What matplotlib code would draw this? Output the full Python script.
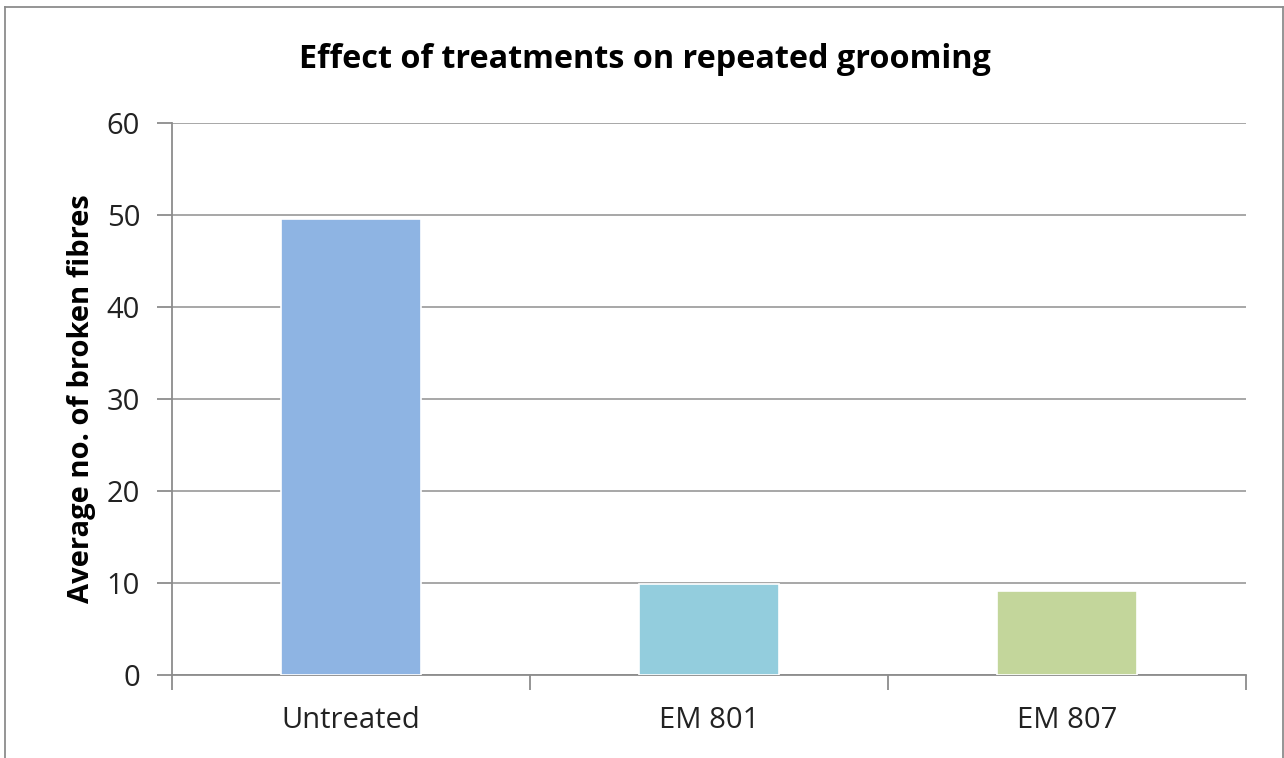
import matplotlib.pyplot as plt
from matplotlib.lines import Line2D
import matplotlib.patheffects as pe

categories = ["Untreated", "EM 801", "EM 807"]
values = [49.6, 9.9, 9.1]
colors = ["#8EB4E3", "#93CDDD", "#C3D69B"]
y_ticks = [0, 10, 20, 30, 40, 50, 60]

plt.rcParams['font.family'] = ['Open Sans', 'DejaVu Sans']

fig = plt.figure(figsize=(12.84, 7.58), dpi=100)
ax = fig.add_axes([0.134, 0.1095, 0.8364, 0.7282])

x = range(len(categories))
bars = ax.bar(x, values, width=0.39, color=colors, edgecolor="white", linewidth=1.2, zorder=3)
for b in bars:
    b.set_path_effects([pe.SimplePatchShadow(offset=(0, 0), shadow_rgbFace="#bbbbbb", alpha=0.6),
                        pe.Normal()])

ax.set_xlim(-0.5, 2.5)
ax.set_ylim(0, 60)
ax.set_yticks(y_ticks)
ax.set_xticks(list(x))
ax.set_xticklabels(categories)
ax.set_xticks([-0.5, 0.5, 1.5, 2.5], minor=True)

ax.yaxis.grid(True, color="#a0a0a0", linewidth=1.3, zorder=0)
ax.set_axisbelow(True)

for s in ["top", "right"]:
    ax.spines[s].set_visible(False)
for s in ["left", "bottom"]:
    ax.spines[s].set_color("#8c8c8c")
    ax.spines[s].set_linewidth(1.3)

ax.tick_params(axis="y", length=11, width=1.3, color="#8c8c8c", labelsize=21, pad=12, labelcolor="#222222")
ax.tick_params(axis="x", which="major", length=0, labelsize=21, pad=22, labelcolor="#222222")
ax.tick_params(axis="x", which="minor", length=11, width=1.3, color="#8c8c8c")

ax.set_ylabel("Average no. of broken fibres", fontsize=21, fontweight="bold", labelpad=8)
fig.text(0.502, 0.921, "Effect of treatments on repeated grooming", ha="center", va="center",
         fontsize=23.3, fontweight="bold")

# outer chart border
border = "#8c8c8c"
fig.add_artist(Line2D([0.0039, 0.0039], [0, 0.9908], color=border, lw=1.3, transform=fig.transFigure))
fig.add_artist(Line2D([0.0039, 0.9992], [0.9908, 0.9908], color=border, lw=1.3, transform=fig.transFigure))
fig.add_artist(Line2D([0.9992, 0.9992], [0, 0.9908], color=border, lw=1.3, transform=fig.transFigure))

fig.savefig("out.png", dpi=100)
